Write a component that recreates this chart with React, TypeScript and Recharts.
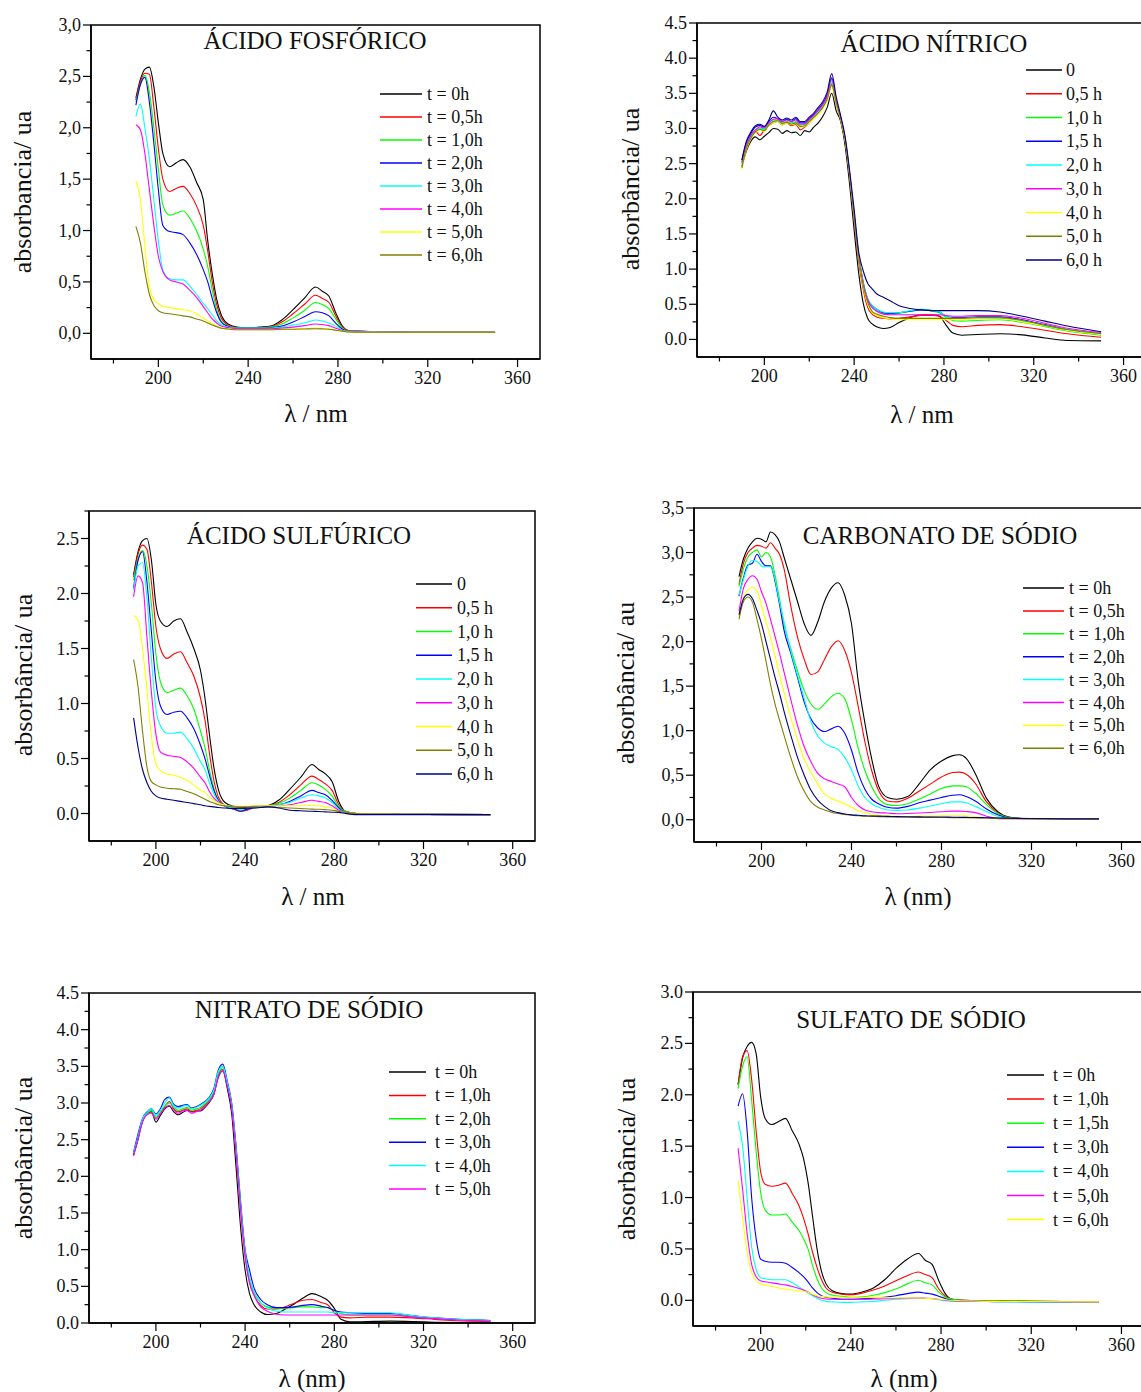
import React from 'react';
import { LineChart, Line, XAxis, YAxis, ReferenceArea } from 'recharts';

const FONT = '"Liberation Serif", "Times New Roman", Times, serif';

const BLACK = '#000000';
const RED = '#ff0000';
const GREEN = '#00ff00';
const BLUE = '#0000ff';
const CYAN = '#00ffff';
const MAGENTA = '#ff00ff';
const YELLOW = '#ffff00';
const OLIVE = '#808000';
const NAVY = '#000080';

const X_TICKS = [180, 200, 220, 240, 260, 280, 300, 320, 340, 360];
const Y_TICKS_30 = [0, 0.25, 0.5, 0.75, 1, 1.25, 1.5, 1.75, 2, 2.25, 2.5, 2.75, 3];
const Y_TICKS_45 = [0, 0.25, 0.5, 0.75, 1, 1.25, 1.5, 1.75, 2, 2.25, 2.5, 2.75, 3, 3.25, 3.5, 3.75, 4, 4.25, 4.5];
const Y_TICKS_275 = [0, 0.25, 0.5, 0.75, 1, 1.25, 1.5, 1.75, 2, 2.25, 2.5, 2.75];
const Y_TICKS_35 = [0, 0.25, 0.5, 0.75, 1, 1.25, 1.5, 1.75, 2, 2.25, 2.5, 2.75, 3, 3.25, 3.5];

// ---------- ÁCIDO FOSFÓRICO ----------
const WL_FOS = [190,192,194,196,198,200,202,205,208,211,214,217,220,222,224,226,228,231,235,240,245,250,255,260,265,270,273,276,279,282,285,290,300,320,350];
const FOS_T0 = [2.29,2.47,2.57,2.59,2.40,2.05,1.75,1.62,1.66,1.69,1.62,1.47,1.30,0.9,0.58,0.33,0.18,0.09,0.06,0.05,0.06,0.07,0.13,0.23,0.34,0.45,0.41,0.36,0.20,0.07,0.025,0.02,0.015,0.01,0.01];
const FOS_T05 = [2.27,2.45,2.53,2.52,2.2,1.8,1.5,1.38,1.41,1.43,1.36,1.24,1.05,0.8,0.5,0.28,0.15,0.08,0.055,0.05,0.055,0.065,0.11,0.19,0.28,0.37,0.34,0.30,0.17,0.06,0.025,0.02,0.015,0.01,0.01];
const FOS_T1 = [2.25,2.42,2.51,2.35,2.0,1.6,1.25,1.15,1.17,1.19,1.12,1.0,0.82,0.65,0.42,0.23,0.12,0.07,0.05,0.05,0.05,0.06,0.09,0.15,0.22,0.30,0.28,0.24,0.14,0.05,0.02,0.02,0.015,0.01,0.01];
const FOS_T2 = [2.22,2.42,2.49,2.25,1.85,1.4,1.05,0.99,0.98,0.96,0.88,0.77,0.62,0.5,0.34,0.2,0.11,0.065,0.05,0.05,0.05,0.055,0.07,0.11,0.16,0.21,0.2,0.17,0.1,0.04,0.02,0.02,0.015,0.01,0.01];
const FOS_T3 = [2.11,2.23,2.0,1.7,1.3,0.9,0.62,0.53,0.52,0.52,0.46,0.38,0.29,0.24,0.18,0.12,0.085,0.06,0.05,0.05,0.05,0.05,0.06,0.08,0.1,0.13,0.12,0.1,0.07,0.03,0.02,0.02,0.015,0.01,0.01];
const FOS_T4 = [2.03,1.98,1.75,1.4,1.05,0.75,0.6,0.52,0.5,0.48,0.42,0.35,0.26,0.2,0.14,0.1,0.07,0.055,0.045,0.045,0.045,0.045,0.05,0.06,0.075,0.09,0.085,0.075,0.05,0.025,0.015,0.015,0.012,0.01,0.01];
const FOS_T5 = [1.48,1.3,0.85,0.45,0.33,0.29,0.26,0.25,0.24,0.23,0.22,0.19,0.15,0.12,0.09,0.07,0.055,0.045,0.035,0.035,0.035,0.035,0.04,0.04,0.045,0.05,0.048,0.045,0.035,0.02,0.012,0.01,0.01,0.01,0.01];
const FOS_T6 = [1.04,0.88,0.6,0.38,0.27,0.22,0.2,0.19,0.18,0.17,0.16,0.14,0.12,0.1,0.08,0.065,0.05,0.042,0.035,0.035,0.035,0.035,0.04,0.04,0.042,0.045,0.043,0.04,0.03,0.02,0.012,0.01,0.01,0.01,0.01];

// ---------- ÁCIDO NÍTRICO ----------
const WL_NIT = [190,192,194,196,198,200,202,204,206,208,210,212,214,216,218,220,222,224,226,228,230,232,234,236,238,240,242,244,246,248,250,253,256,260,265,270,275,278,281,284,288,295,305,315,325,335,350];
const NIT_0 = [2.46,2.68,2.82,2.88,2.84,2.89,2.94,3.0,2.99,2.93, 2.97,2.94,2.95,2.9,2.97,2.95,3.02,3.08,3.17,3.3, 3.50,3.25,3.1,2.75,2.2,1.55,0.95,0.52,0.3,0.22, 0.18,0.155,0.17,0.24,0.31,0.35,0.35,0.33,0.2,0.09, 0.06,0.07,0.08,0.065,0.02,-0.015,-0.02];
const NIT_05 = [2.50,2.74,2.88,2.96,2.90,2.98,3.04,3.08,3.10,3.05, 3.08,3.04,3.06,2.98,3.02,3.08,3.15,3.22,3.30,3.42, 3.62,3.35,3.12,2.8,2.3,1.7,1.12,0.72,0.46,0.36, 0.32,0.30,0.29,0.30,0.32,0.34,0.34,0.33,0.27,0.2, 0.18,0.2,0.21,0.18,0.13,0.08,0.03];
const NIT_1 = [2.52,2.76,2.9,2.98,3.0,3.0,3.08,3.12,3.12,3.08, 3.1,3.08,3.1,3.05,3.06,3.12,3.18,3.25,3.33,3.45, 3.65,3.38,3.14,2.83,2.33,1.74,1.18,0.8,0.56,0.46, 0.41,0.37,0.36,0.37,0.40,0.43,0.40,0.38,0.31,0.27, 0.26,0.27,0.28,0.24,0.18,0.12,0.06];
const NIT_15 = [2.55,2.8,2.93,3.02,3.04,3.02,3.1,3.16,3.14,3.1, 3.13,3.1,3.14,3.08,3.08,3.14,3.2,3.27,3.35,3.48, 3.72,3.4,3.16,2.85,2.35,1.76,1.2,0.82,0.58,0.48, 0.43,0.38,0.37,0.38,0.40,0.42,0.41,0.39,0.33,0.31, 0.31,0.32,0.32,0.28,0.21,0.14,0.08];
const NIT_2 = [2.5,2.75,2.88,2.97,3.0,2.98,3.06,3.1,3.11,3.07, 3.1,3.06,3.09,3.02,3.04,3.1,3.17,3.24,3.32,3.44, 3.68,3.38,3.15,2.84,2.34,1.75,1.2,0.82,0.58,0.48, 0.43,0.39,0.38,0.38,0.41,0.43,0.41,0.39,0.33,0.30, 0.30,0.31,0.30,0.26,0.2,0.14,0.08];
const NIT_3 = [2.52,2.77,2.9,2.98,3.02,3.01,3.08,3.13,3.14,3.1, 3.12,3.1,3.12,3.06,3.07,3.13,3.19,3.26,3.34,3.46, 3.70,3.39,3.15,2.84,2.34,1.75,1.19,0.8,0.56,0.45, 0.40,0.36,0.35,0.35,0.35,0.35,0.35,0.35,0.34,0.33, 0.33,0.34,0.34,0.30,0.23,0.16,0.10];
const NIT_4 = [2.42,2.7,2.85,2.94,2.98,2.96,3.04,3.08,3.1,3.05, 3.08,3.05,3.07,3.02,3.03,3.08,3.14,3.2,3.28,3.4, 3.60,3.36,3.13,2.84,2.36,1.78,1.18,0.76,0.5,0.38, 0.34,0.31,0.29,0.28,0.28,0.28,0.28,0.28,0.28,0.28, 0.28,0.29,0.29,0.25,0.19,0.13,0.07];
const NIT_5 = [2.44,2.72,2.86,2.95,2.99,2.97,3.05,3.1,3.11,3.07, 3.09,3.06,3.08,3.03,3.04,3.1,3.16,3.22,3.3,3.42, 3.62,3.37,3.14,2.84,2.35,1.77,1.19,0.78,0.53,0.4, 0.36,0.33,0.31,0.30,0.30,0.30,0.30,0.30,0.30,0.30, 0.30,0.31,0.31,0.27,0.2,0.14,0.08];
const NIT_6 = [2.55,2.82,2.95,3.04,3.06,3.03,3.12,3.25,3.16,3.12, 3.15,3.12,3.16,3.1,3.1,3.16,3.22,3.3,3.38,3.52, 3.78,3.45,3.18,2.88,2.4,1.85,1.25,0.98,0.8,0.72, 0.65,0.6,0.55,0.48,0.44,0.42,0.41,0.41,0.41,0.41, 0.41,0.41,0.39,0.33,0.26,0.19,0.11];

// ---------- ÁCIDO SULFÚRICO ----------
const WL_SUL = [190,192,194,196,198,200,202,205,208,211,214,217,220,222,224,226,228,231,235,238,241,245,250,255,260,265,270,273,276,279,282,285,290,300,320,350];
const SUL_0 = [2.17,2.38,2.48,2.50,2.30,1.90,1.75,1.70,1.75,1.77,1.65,1.50,1.30,1.05,0.72,0.42,0.22,0.1,0.065,0.055,0.055,0.06,0.07,0.12,0.22,0.33,0.445,0.40,0.36,0.29,0.11,0.02,0.0,-0.005,-0.008,-0.01];
const SUL_05 = [2.15,2.36,2.44,2.40,2.1,1.7,1.5,1.41,1.45,1.47,1.37,1.25,1.05,0.85,0.55,0.3,0.15,0.07,0.04,0.02,0.03,0.06,0.07,0.10,0.17,0.26,0.34,0.31,0.27,0.21,0.08,0.02,0.0,-0.005,-0.008,-0.01];
const SUL_1 = [2.12,2.32,2.39,2.25,1.9,1.45,1.2,1.10,1.12,1.14,1.07,0.95,0.75,0.6,0.4,0.23,0.12,0.07,0.05,0.03,0.04,0.06,0.07,0.09,0.14,0.21,0.28,0.26,0.22,0.16,0.06,0.02,0.0,-0.005,-0.008,-0.01];
const SUL_15 = [2.05,2.3,2.38,2.1,1.65,1.2,0.98,0.9,0.92,0.93,0.87,0.77,0.62,0.5,0.35,0.21,0.12,0.065,0.04,0.02,0.04,0.06,0.07,0.08,0.11,0.16,0.21,0.19,0.17,0.12,0.05,0.01,0.0,-0.005,-0.008,-0.01];
const SUL_2 = [2.03,2.25,2.28,1.95,1.4,0.95,0.8,0.73,0.73,0.74,0.68,0.59,0.47,0.4,0.28,0.18,0.11,0.065,0.05,0.04,0.05,0.06,0.07,0.08,0.1,0.14,0.17,0.16,0.14,0.1,0.04,0.01,0.0,-0.005,-0.008,-0.01];
const SUL_3 = [1.97,2.16,2.1,1.6,1.1,0.72,0.56,0.53,0.52,0.51,0.47,0.41,0.33,0.28,0.2,0.14,0.1,0.07,0.06,0.06,0.06,0.07,0.07,0.07,0.08,0.1,0.12,0.11,0.1,0.07,0.03,0.01,0.0,-0.005,-0.008,-0.01];
const SUL_4 = [1.80,1.76,1.5,1.12,0.7,0.45,0.39,0.36,0.35,0.33,0.30,0.26,0.21,0.19,0.15,0.12,0.095,0.075,0.065,0.065,0.065,0.07,0.07,0.07,0.07,0.07,0.075,0.07,0.06,0.05,0.02,0.01,0.0,-0.005,-0.008,-0.01];
const SUL_5 = [1.40,1.15,0.75,0.42,0.29,0.26,0.24,0.23,0.225,0.22,0.2,0.18,0.15,0.13,0.11,0.095,0.08,0.07,0.06,0.06,0.06,0.06,0.06,0.055,0.05,0.045,0.04,0.038,0.035,0.03,0.02,0.01,0.0,-0.005,-0.008,-0.01];
const SUL_6 = [0.87,0.6,0.4,0.28,0.2,0.16,0.14,0.13,0.12,0.11,0.1,0.09,0.08,0.07,0.065,0.06,0.055,0.05,0.045,0.045,0.048,0.05,0.06,0.05,0.03,0.025,0.02,0.018,0.015,0.012,0.01,0.0,-0.01,-0.01,-0.01,-0.01];

// ---------- CARBONATO DE SÓDIO ----------
const WL_CAR = [190,192,194,196,198,200,202,204,206,208,210,213,216,219,222,225,228,231,234,237,240,243,246,249,252,256,260,265,270,275,280,285,288,291,295,300,305,310,320,335,350];
const CAR_0 = [2.73,2.93,3.05,3.12,3.16,3.15,3.12,3.23,3.20,3.12, 2.95,2.70,2.45,2.20,2.07,2.22,2.45,2.60,2.66,2.52, 2.20,1.55,1.08,0.68,0.38,0.25,0.23,0.26,0.40,0.56, 0.66,0.72,0.73,0.69,0.52,0.24,0.09,0.03,0.01,0.01, 0.01];
const CAR_05 = [2.64,2.88,3.0,3.05,3.08,3.07,3.05,3.11,3.05,2.98, 2.82,2.40,2.05,1.80,1.63,1.66,1.80,1.94,2.01,1.90, 1.65,1.27,0.87,0.55,0.33,0.21,0.20,0.24,0.32,0.40, 0.48,0.53,0.535,0.51,0.41,0.20,0.08,0.025,0.01,0.01, 0.01];
const CAR_1 = [2.62,2.82,2.95,3.0,3.03,2.95,3.0,2.95,2.75,2.48, 2.2,1.92,1.67,1.45,1.3,1.24,1.3,1.38,1.42,1.36, 1.12,0.8,0.55,0.37,0.24,0.17,0.16,0.18,0.23,0.29, 0.35,0.38,0.38,0.37,0.30,0.17,0.07,0.025,0.01,0.01, 0.01];
const CAR_2 = [2.51,2.72,2.86,2.88,2.98,2.90,2.85,2.85,2.68,2.42, 2.13,1.87,1.6,1.32,1.13,1.03,0.99,1.02,1.05,0.97, 0.78,0.52,0.34,0.23,0.18,0.14,0.13,0.15,0.19,0.22, 0.25,0.275,0.28,0.26,0.21,0.12,0.055,0.02,0.01,0.01, 0.01];
const CAR_3 = [2.52,2.70,2.85,2.91,2.90,2.85,2.84,2.84,2.70,2.45, 2.22,1.9,1.62,1.36,1.1,0.94,0.86,0.82,0.79,0.70, 0.56,0.38,0.25,0.18,0.14,0.11,0.105,0.11,0.13,0.155, 0.18,0.20,0.20,0.19,0.15,0.09,0.04,0.015,0.01,0.01, 0.01];
const CAR_4 = [2.34,2.60,2.70,2.74,2.70,2.56,2.43,2.25,2.06,1.87, 1.66,1.35,1.06,0.82,0.65,0.52,0.46,0.43,0.40,0.37, 0.25,0.16,0.11,0.09,0.08,0.075,0.068,0.07,0.075,0.082, 0.09,0.097,0.097,0.092,0.08,0.04,0.012,0.01,0.01,0.01, 0.01];
const CAR_5 = [2.28,2.50,2.58,2.61,2.57,2.4,2.22,2.05,1.84,1.63, 1.43,1.15,0.9,0.68,0.53,0.4,0.29,0.24,0.21,0.18, 0.14,0.1,0.08,0.06,0.05,0.042,0.037,0.037,0.04,0.042, 0.044,0.045,0.045,0.043,0.035,0.02,0.012,0.01,0.01,0.01, 0.01];
const CAR_6 = [2.25,2.45,2.50,2.44,2.25,2.03,1.78,1.52,1.3,1.12, 0.95,0.7,0.48,0.32,0.2,0.14,0.11,0.085,0.07,0.06, 0.05,0.045,0.04,0.038,0.035,0.032,0.03,0.028,0.027,0.026, 0.025,0.024,0.023,0.022,0.021,0.02,0.018,0.015,0.012,0.01, 0.01];
const CAR_X = [2.30,2.48,2.53,2.48,2.35,2.2,2.0,1.8,1.6,1.42, 1.22,0.95,0.7,0.5,0.33,0.22,0.15,0.1,0.08,0.065, 0.055,0.05,0.045,0.042,0.04,0.038,0.035,0.033,0.032,0.03, 0.03,0.028,0.027,0.026,0.025,0.022,0.02,0.017,0.013,0.01, 0.01];

// ---------- NITRATO DE SÓDIO ----------
const WL_NAN = [190,192,194,196,198,200,202,204,206,208,210,212,214,216,218,220,222,224,226,228,230,232,234,236,238,240,242,244,247,250,254,258,262,266,270,274,277,280,283,287,295,305,315,325,335,350];
const NAN_0 = [2.29,2.50,2.75,2.85,2.88,2.74,2.83,2.92,2.96,2.88, 2.84,2.87,2.9,2.88,2.89,2.89,2.94,3.01,3.12,3.35, 3.44,3.2,2.85,2.1,1.3,0.72,0.4,0.25,0.15,0.115, 0.13,0.19,0.26,0.34,0.40,0.36,0.31,0.2,0.05,0.015, 0.02,0.025,0.02,0.01,0.005,0.0];
const NAN_1 = [2.30,2.55,2.75,2.86,2.88,2.8,2.86,2.95,3.02,2.92, 2.88,2.9,2.92,2.88,2.9,2.92,2.97,3.03,3.14,3.38, 3.46,3.25,2.95,2.3,1.55,0.92,0.55,0.38,0.24,0.19, 0.19,0.22,0.27,0.31,0.32,0.28,0.25,0.14,0.08,0.07, 0.08,0.08,0.07,0.05,0.03,0.02];
const NAN_2 = [2.32,2.52,2.76,2.86,2.9,2.8,2.88,2.96,3.0,2.94, 2.9,2.92,2.94,2.9,2.92,2.94,2.99,3.05,3.16,3.4, 3.48,3.27,2.97,2.35,1.6,0.97,0.6,0.42,0.27,0.22, 0.2,0.2,0.21,0.22,0.22,0.21,0.21,0.17,0.13,0.11, 0.11,0.11,0.09,0.07,0.05,0.035];
const NAN_3 = [2.33,2.58,2.79,2.88,2.92,2.85,2.92,3.05,3.08,2.98, 2.95,2.97,2.98,2.93,2.95,2.98,3.02,3.08,3.2,3.45, 3.53,3.3,3.0,2.4,1.65,1.0,0.72,0.48,0.32,0.25, 0.21,0.21,0.22,0.24,0.25,0.23,0.21,0.17,0.15,0.14, 0.13,0.13,0.1,0.07,0.05,0.035];
const NAN_4 = [2.32,2.55,2.78,2.87,2.92,2.83,2.9,3.0,3.07,2.96, 2.93,2.95,2.97,2.92,2.94,2.97,3.01,3.07,3.18,3.43, 3.50,3.28,2.98,2.37,1.62,0.98,0.62,0.43,0.28,0.2, 0.16,0.15,0.15,0.15,0.15,0.15,0.15,0.14,0.14,0.14, 0.14,0.14,0.1,0.07,0.05,0.035];
const NAN_5 = [2.28,2.52,2.74,2.84,2.86,2.78,2.85,2.93,2.97,2.9, 2.86,2.89,2.9,2.86,2.88,2.9,2.95,3.02,3.12,3.36, 3.44,3.23,2.93,2.3,1.55,0.92,0.55,0.38,0.22,0.16, 0.12,0.11,0.11,0.11,0.11,0.11,0.11,0.11,0.11,0.11, 0.11,0.11,0.08,0.06,0.04,0.025];

// ---------- SULFATO DE SÓDIO ----------
const WL_SSO = [190,192,194,196,198,200,202,205,208,211,214,217,219,221,223,225,227,229,232,236,240,245,250,255,260,265,270,273,276,279,282,285,290,300,320,350];
const SSO_0 = [2.10,2.36,2.47,2.51,2.40,1.98,1.77,1.71,1.74,1.77,1.65,1.52,1.38,1.15,0.82,0.5,0.28,0.16,0.09,0.065,0.06,0.08,0.12,0.2,0.31,0.40,0.455,0.39,0.35,0.19,0.06,0.01,0.0,-0.005,-0.01,-0.015];
const SSO_1 = [2.10,2.37,2.43,2.15,1.65,1.25,1.13,1.11,1.12,1.14,1.04,0.92,0.8,0.65,0.47,0.32,0.2,0.12,0.075,0.06,0.055,0.07,0.1,0.14,0.19,0.24,0.275,0.25,0.22,0.11,0.04,0.01,0.0,-0.005,-0.01,-0.015];
const SSO_15 = [2.06,2.28,2.37,1.95,1.45,1.05,0.88,0.83,0.83,0.84,0.76,0.68,0.6,0.5,0.34,0.21,0.12,0.075,0.05,0.04,0.03,0.035,0.05,0.075,0.11,0.16,0.195,0.17,0.15,0.08,0.03,0.01,0.0,-0.005,-0.01,-0.015];
const SSO_3 = [1.89,2.01,1.65,1.0,0.6,0.4,0.38,0.37,0.37,0.36,0.32,0.27,0.23,0.18,0.12,0.075,0.045,0.03,0.02,0.01,0.01,0.015,0.02,0.03,0.045,0.065,0.08,0.07,0.06,0.04,0.015,0.0,-0.005,-0.01,-0.015,-0.015];
const SSO_4 = [1.74,1.5,1.0,0.52,0.3,0.22,0.21,0.2,0.2,0.2,0.17,0.13,0.1,0.07,0.045,0.02,0.0,-0.01,-0.015,-0.02,-0.02,-0.015,-0.01,0.0,0.01,0.015,0.02,0.02,0.015,0.005,-0.005,-0.01,-0.01,-0.012,-0.015,-0.015];
const SSO_5 = [1.48,1.08,0.65,0.35,0.23,0.19,0.18,0.17,0.16,0.15,0.135,0.115,0.1,0.08,0.055,0.035,0.02,0.012,0.01,0.01,0.01,0.01,0.012,0.015,0.018,0.02,0.022,0.02,0.018,0.01,0.0,-0.005,-0.008,-0.01,-0.012,-0.015];
const SSO_6 = [1.17,0.8,0.47,0.27,0.19,0.16,0.15,0.135,0.12,0.11,0.1,0.092,0.088,0.078,0.06,0.045,0.038,0.033,0.03,0.03,0.03,0.03,0.028,0.025,0.022,0.022,0.022,0.02,0.015,0.01,0.005,0.0,-0.005,-0.01,-0.012,-0.015];

type Series = { label: string | null; color: string; values: number[] };
type Panel = {
  title: string; titleX: number; titleY: number;
  xLabel: string; xLabelX: number; xLabelY: number;
  yLabel: string; yLabelX: number; yLabelY: number;
  wl: number[]; series: Series[];
  plot: { x: number; y: number; w: number; h: number };
  yDomain: [number, number]; yTicks: number[]; comma: boolean;
  legend: { lx1: number; lx2: number; tx: number; y0: number; dy: number };
};

const PANELS: Panel[] = [
  {
    title: 'ÁCIDO FOSFÓRICO', titleX: 315, titleY: 49,
    xLabel: 'λ / nm', xLabelX: 316, xLabelY: 422,
    yLabel: 'absorbancia/ ua', yLabelX: 31, yLabelY: 192,
    wl: WL_FOS,
    series: [
      { label: 't = 0h', color: BLACK, values: FOS_T0 },
      { label: 't = 0,5h', color: RED, values: FOS_T05 },
      { label: 't = 1,0h', color: GREEN, values: FOS_T1 },
      { label: 't = 2,0h', color: BLUE, values: FOS_T2 },
      { label: 't = 3,0h', color: CYAN, values: FOS_T3 },
      { label: 't = 4,0h', color: MAGENTA, values: FOS_T4 },
      { label: 't = 5,0h', color: YELLOW, values: FOS_T5 },
      { label: 't = 6,0h', color: OLIVE, values: FOS_T6 },
    ],
    plot: { x: 91, y: 25, w: 449, h: 334 },
    yDomain: [-0.25, 3.0], yTicks: Y_TICKS_30, comma: true,
    legend: { lx1: 380, lx2: 422, tx: 427, y0: 94, dy: 23 },
  },
  {
    title: 'ÁCIDO NÍTRICO', titleX: 934, titleY: 52,
    xLabel: 'λ / nm', xLabelX: 922, xLabelY: 423,
    yLabel: 'absorbância/ ua', yLabelX: 639, yLabelY: 189,
    wl: WL_NIT,
    series: [
      { label: '0', color: BLACK, values: NIT_0 },
      { label: '0,5 h', color: RED, values: NIT_05 },
      { label: '1,0 h', color: GREEN, values: NIT_1 },
      { label: '1,5 h', color: BLUE, values: NIT_15 },
      { label: '2,0 h', color: CYAN, values: NIT_2 },
      { label: '3,0 h', color: MAGENTA, values: NIT_3 },
      { label: '4,0 h', color: YELLOW, values: NIT_4 },
      { label: '5,0 h', color: OLIVE, values: NIT_5 },
      { label: '6,0 h', color: NAVY, values: NIT_6 },
    ],
    plot: { x: 697, y: 23, w: 449, h: 334 },
    yDomain: [-0.25, 4.5], yTicks: Y_TICKS_45, comma: false,
    legend: { lx1: 1026, lx2: 1062, tx: 1066, y0: 70, dy: 23.75 },
  },
  {
    title: 'ÁCIDO SULFÚRICO', titleX: 299, titleY: 544,
    xLabel: 'λ / nm', xLabelX: 313, xLabelY: 905,
    yLabel: 'absorbância/ ua', yLabelX: 32, yLabelY: 675,
    wl: WL_SUL,
    series: [
      { label: '0', color: BLACK, values: SUL_0 },
      { label: '0,5 h', color: RED, values: SUL_05 },
      { label: '1,0 h', color: GREEN, values: SUL_1 },
      { label: '1,5 h', color: BLUE, values: SUL_15 },
      { label: '2,0 h', color: CYAN, values: SUL_2 },
      { label: '3,0 h', color: MAGENTA, values: SUL_3 },
      { label: '4,0 h', color: YELLOW, values: SUL_4 },
      { label: '5,0 h', color: OLIVE, values: SUL_5 },
      { label: '6,0 h', color: NAVY, values: SUL_6 },
    ],
    plot: { x: 89, y: 511, w: 446, h: 330 },
    yDomain: [-0.25, 2.75], yTicks: Y_TICKS_275, comma: false,
    legend: { lx1: 416, lx2: 452, tx: 457, y0: 584, dy: 23.75 },
  },
  {
    title: 'CARBONATO DE SÓDIO', titleX: 940, titleY: 544,
    xLabel: 'λ (nm)', xLabelX: 918, xLabelY: 905,
    yLabel: 'absorbância/ au', yLabelX: 634, yLabelY: 683,
    wl: WL_CAR,
    series: [
      { label: 't = 0h', color: BLACK, values: CAR_0 },
      { label: 't = 0,5h', color: RED, values: CAR_05 },
      { label: 't = 1,0h', color: GREEN, values: CAR_1 },
      { label: 't = 2,0h', color: BLUE, values: CAR_2 },
      { label: 't = 3,0h', color: CYAN, values: CAR_3 },
      { label: 't = 4,0h', color: MAGENTA, values: CAR_4 },
      { label: 't = 5,0h', color: YELLOW, values: CAR_5 },
      { label: 't = 6,0h', color: OLIVE, values: CAR_6 },
      { label: null, color: NAVY, values: CAR_X },
    ],
    plot: { x: 694, y: 508, w: 450, h: 334 },
    yDomain: [-0.25, 3.5], yTicks: Y_TICKS_35, comma: true,
    legend: { lx1: 1023, lx2: 1064, tx: 1069, y0: 588, dy: 22.9 },
  },
  {
    title: 'NITRATO DE SÓDIO', titleX: 309, titleY: 1018,
    xLabel: 'λ (nm)', xLabelX: 312, xLabelY: 1387,
    yLabel: 'absorbância/ ua', yLabelX: 32, yLabelY: 1158,
    wl: WL_NAN,
    series: [
      { label: 't = 0h', color: BLACK, values: NAN_0 },
      { label: 't = 1,0h', color: RED, values: NAN_1 },
      { label: 't = 2,0h', color: GREEN, values: NAN_2 },
      { label: 't = 3,0h', color: BLUE, values: NAN_3 },
      { label: 't = 4,0h', color: CYAN, values: NAN_4 },
      { label: 't = 5,0h', color: MAGENTA, values: NAN_5 },
    ],
    plot: { x: 89, y: 993, w: 446, h: 330 },
    yDomain: [0, 4.5], yTicks: Y_TICKS_45, comma: false,
    legend: { lx1: 389, lx2: 426, tx: 435, y0: 1072, dy: 23.4 },
  },
  {
    title: 'SULFATO DE SÓDIO', titleX: 911, titleY: 1028,
    xLabel: 'λ (nm)', xLabelX: 904, xLabelY: 1387,
    yLabel: 'absorbância/ ua', yLabelX: 635, yLabelY: 1159,
    wl: WL_SSO,
    series: [
      { label: 't = 0h', color: BLACK, values: SSO_0 },
      { label: 't = 1,0h', color: RED, values: SSO_1 },
      { label: 't = 1,5h', color: GREEN, values: SSO_15 },
      { label: 't = 3,0h', color: BLUE, values: SSO_3 },
      { label: 't = 4,0h', color: CYAN, values: SSO_4 },
      { label: 't = 5,0h', color: MAGENTA, values: SSO_5 },
      { label: 't = 6,0h', color: YELLOW, values: SSO_6 },
    ],
    plot: { x: 693, y: 992, w: 451, h: 334 },
    yDomain: [-0.25, 3.0], yTicks: Y_TICKS_30, comma: false,
    legend: { lx1: 1007, lx2: 1044, tx: 1053, y0: 1075, dy: 24.1 },
  },
];

const ML = 60;
const MT = 10;
const MR = 10;
const XH = 40;

function XTick(props: any) {
  const { x, y, payload } = props;
  const v = payload.value;
  const major = v % 40 === 0;
  return (
    <g>
      <line x1={x} y1={y} x2={x} y2={y + (major ? 8 : 4.5)} stroke="#000" strokeWidth={1.2} />
      {major && (
        <text x={x} y={y + 24.5} textAnchor="middle" fontFamily={FONT} fontSize={18} fill="#111">
          {String(v)}
        </text>
      )}
    </g>
  );
}

function makeYTick(comma: boolean) {
  return (props: any) => {
    const { x, y, payload } = props;
    const v = payload.value;
    const major = Math.abs(v * 2 - Math.round(v * 2)) < 1e-6;
    let s = v.toFixed(1);
    if (comma) s = s.replace('.', ',');
    return (
      <g>
        <line x1={x - (major ? 8 : 4.5)} y1={y} x2={x} y2={y} stroke="#000" strokeWidth={1.2} />
        {major && (
          <text x={x - 10} y={y + 6} textAnchor="end" fontFamily={FONT} fontSize={18} fill="#111">
            {s}
          </text>
        )}
      </g>
    );
  };
}

function PanelChart({ p }: { p: Panel }) {
  const data = p.wl.map((w, i) => {
    const row: Record<string, number> = { w };
    p.series.forEach((s, k) => {
      row['s' + k] = s.values[i];
    });
    return row;
  });
  return (
    <div style={{ position: 'absolute', left: p.plot.x - ML, top: p.plot.y - MT }}>
      <LineChart
        width={p.plot.w + ML + MR}
        height={p.plot.h + MT + XH}
        data={data}
        margin={{ top: MT, right: MR, bottom: 0, left: 0 }}
      >
        <XAxis
          dataKey="w"
          type="number"
          domain={[170, 370]}
          ticks={X_TICKS}
          interval={0}
          tickSize={0}
          tickMargin={0}
          tickLine={false}
          height={XH}
          allowDataOverflow
          axisLine={{ stroke: '#000', strokeWidth: 1.5 }}
          tick={(props: any) => <XTick {...props} />}
        />
        <YAxis
          type="number"
          domain={p.yDomain}
          ticks={p.yTicks}
          interval={0}
          tickSize={0}
          tickMargin={0}
          tickLine={false}
          width={ML}
          allowDataOverflow
          axisLine={{ stroke: '#000', strokeWidth: 1.5 }}
          tick={makeYTick(p.comma)}
        />
        <ReferenceArea
          x1={170}
          x2={370}
          y1={p.yDomain[0]}
          y2={p.yDomain[1]}
          fill="none"
          fillOpacity={0}
          stroke="#000"
          strokeWidth={1.5}
        />
        {p.series.map((s, k) => (
          <Line
            key={k}
            type="monotone"
            dataKey={'s' + k}
            stroke={s.color}
            strokeWidth={1.1}
            dot={false}
            activeDot={false}
            isAnimationActive={false}
          />
        ))}
      </LineChart>
    </div>
  );
}

function Overlay() {
  return (
    <svg
      width={1141}
      height={1392}
      style={{ position: 'absolute', left: 0, top: 0, pointerEvents: 'none' }}
    >
      {PANELS.map((p, i) => {
        const legendItems = p.series.filter((s) => s.label !== null);
        return (
          <g key={i} fontFamily={FONT} fill="#111">
            <text x={p.titleX} y={p.titleY} textAnchor="middle" fontSize={25}>
              {p.title}
            </text>
            <text x={p.xLabelX} y={p.xLabelY} textAnchor="middle" fontSize={25}>
              {p.xLabel}
            </text>
            <text
              x={p.yLabelX}
              y={p.yLabelY}
              textAnchor="middle"
              fontSize={26}
              transform={`rotate(-90 ${p.yLabelX} ${p.yLabelY})`}
            >
              {p.yLabel}
            </text>
            {legendItems.map((s, k) => {
              const y = p.legend.y0 + k * p.legend.dy;
              return (
                <g key={k}>
                  <line x1={p.legend.lx1} y1={y} x2={p.legend.lx2} y2={y} stroke={s.color} strokeWidth={1.5} />
                  <text x={p.legend.tx} y={y + 6} fontSize={18}>
                    {s.label}
                  </text>
                </g>
              );
            })}
          </g>
        );
      })}
    </svg>
  );
}

export default function App() {
  return (
    <div
      style={{
        position: 'absolute',
        left: 0,
        top: 0,
        width: 1141,
        height: 1392,
        overflow: 'hidden',
        background: '#fff',
      }}
    >
      {PANELS.map((p, i) => (
        <PanelChart key={i} p={p} />
      ))}
      <Overlay />
    </div>
  );
}
